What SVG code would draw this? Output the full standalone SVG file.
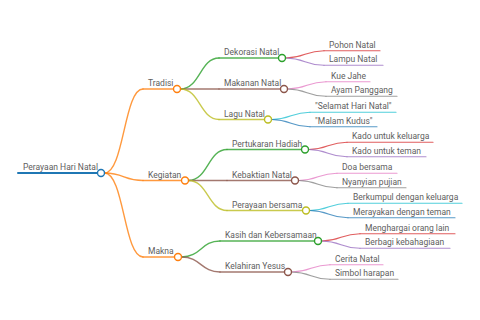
<svg xmlns="http://www.w3.org/2000/svg" width="480" height="320" viewBox="0 0 480 320">
<style>
text{font-family:Roboto,"Liberation Sans",sans-serif;font-size:8.5px;fill:#606060}
path,line,circle{fill:none;stroke-width:1.4;stroke-linecap:round;stroke-opacity:0.8}
circle{fill:#fff;stroke-width:1.4;stroke-opacity:1}
.c0{stroke:#1f77b4}.c1{stroke:#ff7f0e}.c2{stroke:#2ca02c}.c3{stroke:#d62728}.c4{stroke:#9467bd}
.c5{stroke:#8c564b}.c6{stroke:#e377c2}.c7{stroke:#7f7f7f}.c8{stroke:#bcbd22}.c9{stroke:#17becf}
.leaf{stroke-width:1.1;stroke-opacity:0.75}
</style>
<rect width="480" height="320" fill="#fff"/>
<g id="connectors">
<path class="c1" d="M104.5,173 C124,173 124,89 143,89"/>
<path class="c1" d="M104.5,173 C124,173 124,180.5 143,180.5"/>
<path class="c1" d="M104.5,173 C124,173 124,257 143,257"/>
<path class="c2" d="M180.5,89 C200,89 200,58 219,58"/>
<path class="c5" d="M180.5,89 H219"/>
<path class="c8" d="M180.5,89 C200,89 200,119.5 219,119.5"/>
<path class="c2" d="M188.5,180.5 C208,180.5 208,149.5 227,149.5"/>
<path class="c5" d="M188.5,180.5 H227"/>
<path class="c8" d="M188.5,180.5 C208,180.5 208,210.5 227,210.5"/>
<path class="c2" d="M181.5,257 C201,257 201,241 220,241"/>
<path class="c5" d="M181.5,257 C201,257 201,272 220,272"/>
<path class="c3 leaf" d="M285.5,58 C305,58 305,50.7 324,50.7"/>
<path class="c4 leaf" d="M285.5,58 C305,58 305,65.3 324,65.3"/>
<path class="c6 leaf" d="M287.5,89 C307,89 307,81.7 326,81.7"/>
<path class="c7 leaf" d="M287.5,89 C307,89 307,96.3 326,96.3"/>
<path class="c9 leaf" d="M271.5,119.5 C291,119.5 291,112.2 310,112.2"/>
<path class="c0 leaf" d="M271.5,119.5 C291,119.5 291,126.8 310,126.8"/>
<path class="c3 leaf" d="M308.5,149.5 C328,149.5 328,142.2 347,142.2"/>
<path class="c4 leaf" d="M308.5,149.5 C328,149.5 328,156.8 347,156.8"/>
<path class="c6 leaf" d="M298.5,180.5 C318,180.5 318,173.2 337,173.2"/>
<path class="c7 leaf" d="M298.5,180.5 C318,180.5 318,187.8 337,187.8"/>
<path class="c9 leaf" d="M309.5,210.5 C329,210.5 329,203.2 348,203.2"/>
<path class="c0 leaf" d="M309.5,210.5 C329,210.5 329,217.8 348,217.8"/>
<path class="c3 leaf" d="M321.5,241 C341,241 341,233.7 360,233.7"/>
<path class="c4 leaf" d="M321.5,241 C341,241 341,248.3 360,248.3"/>
<path class="c6 leaf" d="M291.5,272 C311,272 311,264.7 330,264.7"/>
<path class="c7 leaf" d="M291.5,272 C311,272 311,279.3 330,279.3"/>
</g>
<g id="root"><line class="c0" x1="18" y1="173" x2="101" y2="173" style="stroke-width:2;stroke-opacity:1"/><circle class="c0" cx="101" cy="173" r="3.5"/><text x="23" y="170">Perayaan Hari Natal</text></g>
<g id="tradisi"><line class="c1" x1="143" y1="89" x2="177" y2="89"/><circle class="c1" cx="177" cy="89" r="3.5"/><text x="148" y="86">Tradisi</text></g>
<g id="kegiatan"><line class="c1" x1="143" y1="180.5" x2="185" y2="180.5"/><circle class="c1" cx="185" cy="180.5" r="3.5"/><text x="148" y="177.5">Kegiatan</text></g>
<g id="makna"><line class="c1" x1="143" y1="257" x2="178" y2="257"/><circle class="c1" cx="178" cy="257" r="3.5"/><text x="148" y="254">Makna</text></g>
<g id="dekorasi"><line class="c2" x1="219" y1="58" x2="282" y2="58"/><circle class="c2" cx="282" cy="58" r="3.5"/><text x="224" y="55">Dekorasi Natal</text></g>
<g id="makanan"><line class="c5" x1="219" y1="89" x2="284" y2="89"/><circle class="c5" cx="284" cy="89" r="3.5"/><text x="224" y="86">Makanan Natal</text></g>
<g id="lagu"><line class="c8" x1="219" y1="119.5" x2="268" y2="119.5"/><circle class="c8" cx="268" cy="119.5" r="3.5"/><text x="224" y="116.5">Lagu Natal</text></g>
<g id="pertukaran"><line class="c2" x1="227" y1="149.5" x2="305" y2="149.5"/><circle class="c2" cx="305" cy="149.5" r="3.5"/><text x="232" y="146.5">Pertukaran Hadiah</text></g>
<g id="kebaktian"><line class="c5" x1="227" y1="180.5" x2="295" y2="180.5"/><circle class="c5" cx="295" cy="180.5" r="3.5"/><text x="232" y="177.5">Kebaktian Natal</text></g>
<g id="perayaan"><line class="c8" x1="227" y1="210.5" x2="306" y2="210.5"/><circle class="c8" cx="306" cy="210.5" r="3.5"/><text x="232" y="207.5">Perayaan bersama</text></g>
<g id="kasih"><line class="c2" x1="220" y1="241" x2="318" y2="241"/><circle class="c2" cx="318" cy="241" r="3.5"/><text x="225" y="238">Kasih dan Kebersamaan</text></g>
<g id="kelahiran"><line class="c5" x1="220" y1="272" x2="288" y2="272"/><circle class="c5" cx="288" cy="272" r="3.5"/><text x="225" y="269">Kelahiran Yesus</text></g>
<g id="pohon"><line class="c3 leaf" x1="324" y1="50.7" x2="380" y2="50.7"/><text x="329" y="47.7">Pohon Natal</text></g>
<g id="lampu"><line class="c4 leaf" x1="324" y1="65.3" x2="383" y2="65.3"/><text x="329" y="62.3">Lampu Natal</text></g>
<g id="kue"><line class="c6 leaf" x1="326" y1="81.7" x2="370" y2="81.7"/><text x="331" y="78.7">Kue Jahe</text></g>
<g id="ayam"><line class="c7 leaf" x1="326" y1="96.3" x2="397" y2="96.3"/><text x="331" y="93.3">Ayam Panggang</text></g>
<g id="selamat"><line class="c9 leaf" x1="310" y1="112.2" x2="396" y2="112.2"/><text x="315" y="109.2">"Selamat Hari Natal"</text></g>
<g id="malam"><line class="c0 leaf" x1="310" y1="126.8" x2="377" y2="126.8"/><text x="315" y="123.8">"Malam Kudus"</text></g>
<g id="kado-keluarga"><line class="c3 leaf" x1="347" y1="142.2" x2="433" y2="142.2"/><text x="352" y="139.2">Kado untuk keluarga</text></g>
<g id="kado-teman"><line class="c4 leaf" x1="347" y1="156.8" x2="426" y2="156.8"/><text x="352" y="153.8">Kado untuk teman</text></g>
<g id="doa"><line class="c6 leaf" x1="337" y1="173.2" x2="397" y2="173.2"/><text x="342" y="170.2">Doa bersama</text></g>
<g id="nyanyian"><line class="c7 leaf" x1="337" y1="187.8" x2="406" y2="187.8"/><text x="342" y="184.8">Nyanyian pujian</text></g>
<g id="berkumpul"><line class="c9 leaf" x1="348" y1="203.2" x2="462" y2="203.2"/><text x="353" y="200.2">Berkumpul dengan keluarga</text></g>
<g id="merayakan"><line class="c0 leaf" x1="348" y1="217.8" x2="455" y2="217.8"/><text x="353" y="214.8">Merayakan dengan teman</text></g>
<g id="menghargai"><line class="c3 leaf" x1="360" y1="233.7" x2="455" y2="233.7"/><text x="365" y="230.7">Menghargai orang lain</text></g>
<g id="berbagi"><line class="c4 leaf" x1="360" y1="248.3" x2="450" y2="248.3"/><text x="365" y="245.3">Berbagi kebahagiaan</text></g>
<g id="cerita"><line class="c6 leaf" x1="330" y1="264.7" x2="383" y2="264.7"/><text x="335" y="261.7">Cerita Natal</text></g>
<g id="simbol"><line class="c7 leaf" x1="330" y1="279.3" x2="398" y2="279.3"/><text x="335" y="276.3">Simbol harapan</text></g>
</svg>
